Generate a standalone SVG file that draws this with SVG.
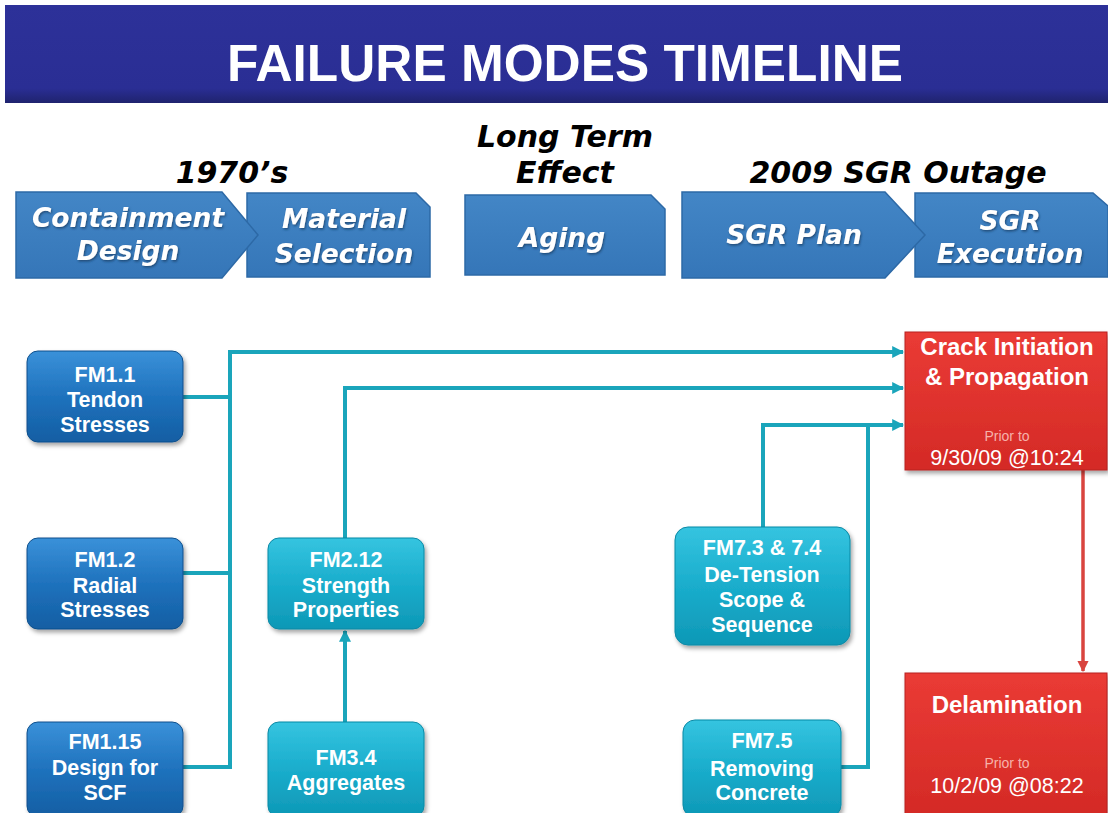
<svg xmlns="http://www.w3.org/2000/svg" width="1108" height="813" viewBox="0 0 1108 813">
<defs>
<linearGradient id="gTitle" x1="0" y1="0" x2="0" y2="1"><stop offset="0" stop-color="#2d3199"/><stop offset="0.85" stop-color="#2a2e94"/><stop offset="1" stop-color="#1f236e"/></linearGradient>
<linearGradient id="gTl" x1="0" y1="0" x2="0" y2="1"><stop offset="0" stop-color="#4386c6"/><stop offset="1" stop-color="#3576b8"/></linearGradient>
<linearGradient id="gBlue" x1="0" y1="0" x2="0" y2="1"><stop offset="0" stop-color="#3a91d9"/><stop offset="0.5" stop-color="#1f72bd"/><stop offset="1" stop-color="#135ea3"/></linearGradient>
<linearGradient id="gTeal" x1="0" y1="0" x2="0" y2="1"><stop offset="0" stop-color="#35c4e0"/><stop offset="0.5" stop-color="#1aadcc"/><stop offset="1" stop-color="#0e98b6"/></linearGradient>
<linearGradient id="gRed" x1="0" y1="0" x2="0" y2="1"><stop offset="0" stop-color="#ea3b35"/><stop offset="1" stop-color="#d42a26"/></linearGradient>
<filter id="sh" x="-10%" y="-10%" width="125%" height="130%"><feDropShadow dx="2" dy="3" stdDeviation="2" flood-color="#000" flood-opacity="0.35"/></filter>
<filter id="tsh" x="-5%" y="-20%" width="110%" height="150%"><feDropShadow dx="1" dy="1.5" stdDeviation="0.8" flood-color="#1a3f66" flood-opacity="0.8"/></filter>
<marker id="aT" viewBox="0 0 10 10" refX="9" refY="5" markerWidth="3" markerHeight="3" orient="auto" markerUnits="strokeWidth"><path d="M0,0 L10,5 L0,10 z" fill="#1aa5bb"/></marker>
<marker id="aR" viewBox="0 0 10 10" refX="9" refY="5" markerWidth="3.2" markerHeight="3.2" orient="auto" markerUnits="strokeWidth"><path d="M0,0 L10,5 L0,10 z" fill="#d9443f"/></marker>
</defs>
<style>
.hdr{font-family:"DejaVu Sans",Verdana,sans-serif;font-weight:bold;font-style:italic;font-size:30px;fill:#000;text-anchor:middle}
.tl{fill:url(#gTl);stroke:#2d69a6;stroke-width:1.5}
.tlt{font-family:"DejaVu Sans",Verdana,sans-serif;font-weight:bold;font-style:italic;font-size:26.5px;fill:#fff;text-anchor:middle}
.nb{fill:url(#gBlue);stroke:#0f4f8c;stroke-width:1}
.nt{fill:url(#gTeal);stroke:#0b89a5;stroke-width:1}
.nr{fill:url(#gRed);stroke:#b82320;stroke-width:1}
.lbl{font-family:"Liberation Sans",Arial,sans-serif;font-weight:bold;font-size:21.5px;fill:#fff;text-anchor:middle}
.rl{font-family:"Liberation Sans",Arial,sans-serif;font-weight:bold;font-size:24px;fill:#fff;text-anchor:middle}
.pr{font-family:"Liberation Sans",Arial,sans-serif;font-size:14px;fill:#f6b2aa;text-anchor:middle}
.dt{font-family:"Liberation Sans",Arial,sans-serif;font-size:21.5px;fill:#fff;text-anchor:middle}
.c{fill:none;stroke:#1aa5bb;stroke-width:4}
.cr{fill:none;stroke:#d9443f;stroke-width:3.5}
</style>
<rect width="1108" height="813" fill="#fff"/>
<g id="title">
<rect x="5" y="5" width="1103" height="98" fill="url(#gTitle)"/>
<text x="565" y="81" font-family="Liberation Sans, Arial, sans-serif" font-weight="bold" font-size="52" fill="#fff" text-anchor="middle" textLength="676" lengthAdjust="spacingAndGlyphs">FAILURE MODES TIMELINE</text>
</g>
<g id="headers">
<text class="hdr" x="232" y="183">1970’s</text>
<text class="hdr" x="565" y="147">Long Term</text>
<text class="hdr" x="565" y="183">Effect</text>
<text class="hdr" x="898" y="183">2009 SGR Outage</text>
</g>
<g id="tl-material">
<polygon class="tl" points="247,193 416,193 430,207 430,277 247,277"/>
<text class="tlt" x="344" y="228" filter="url(#tsh)">Material</text>
<text class="tlt" x="344" y="263" filter="url(#tsh)">Selection</text>
</g>
<g id="tl-containment">
<polygon class="tl" points="16,192 222,192 258,235 222,278 16,278"/>
<text class="tlt" x="128" y="227" filter="url(#tsh)">Containment</text>
<text class="tlt" x="128" y="260" filter="url(#tsh)">Design</text>
</g>
<g id="tl-aging">
<polygon class="tl" points="465,195 651,195 665,209 665,275 465,275"/>
<text class="tlt" x="562" y="247" filter="url(#tsh)">Aging</text>
</g>
<g id="tl-exec">
<polygon class="tl" points="915,193 1093,193 1108,206 1108,277 915,277"/>
<text class="tlt" x="1010" y="230" filter="url(#tsh)">SGR</text>
<text class="tlt" x="1010" y="263" filter="url(#tsh)">Execution</text>
</g>
<g id="tl-plan">
<polygon class="tl" points="682,192 885,192 925,235 885,278 682,278"/>
<text class="tlt" x="794" y="244" filter="url(#tsh)">SGR Plan</text>
</g>
<g id="connectors">
<polyline class="c" points="183,397 230,397"/>
<polyline class="c" points="183,573 230,573"/>
<polyline class="c" points="183,767 230,767 230,352 903,352" marker-end="url(#aT)"/>
<polyline class="c" points="345,538 345,388 903,388" marker-end="url(#aT)"/>
<polyline class="c" points="345,722 345,631" marker-end="url(#aT)"/>
<polyline class="c" points="763,527 763,425 903,425" marker-end="url(#aT)"/>
<polyline class="c" points="841,767 868,767 868,425"/>
<polyline class="cr" points="1083,470 1083,671" marker-end="url(#aR)"/>
</g>
<g id="fm1-1">
<rect class="nb" x="27" y="351" width="156" height="91" rx="11" filter="url(#sh)"/>
<text class="lbl" x="105" y="382">FM1.1</text>
<text class="lbl" x="105" y="407">Tendon</text>
<text class="lbl" x="105" y="432">Stresses</text>
</g>
<g id="fm1-2">
<rect class="nb" x="27" y="538" width="156" height="91" rx="11" filter="url(#sh)"/>
<text class="lbl" x="105" y="567">FM1.2</text>
<text class="lbl" x="105" y="593">Radial</text>
<text class="lbl" x="105" y="617">Stresses</text>
</g>
<g id="fm1-15">
<rect class="nb" x="27" y="722" width="156" height="95" rx="11" filter="url(#sh)"/>
<text class="lbl" x="105" y="749">FM1.15</text>
<text class="lbl" x="105" y="775">Design for</text>
<text class="lbl" x="105" y="800">SCF</text>
</g>
<g id="fm2-12">
<rect class="nt" x="268" y="538" width="156" height="91" rx="11" filter="url(#sh)"/>
<text class="lbl" x="346" y="567">FM2.12</text>
<text class="lbl" x="346" y="593">Strength</text>
<text class="lbl" x="346" y="617">Properties</text>
</g>
<g id="fm3-4">
<rect class="nt" x="268" y="722" width="156" height="95" rx="11" filter="url(#sh)"/>
<text class="lbl" x="346" y="765">FM3.4</text>
<text class="lbl" x="346" y="790">Aggregates</text>
</g>
<g id="fm7-3">
<rect class="nt" x="675" y="527" width="175" height="118" rx="13" filter="url(#sh)"/>
<text class="lbl" x="762" y="555">FM7.3 &amp; 7.4</text>
<text class="lbl" x="762" y="582">De-Tension</text>
<text class="lbl" x="762" y="607">Scope &amp;</text>
<text class="lbl" x="762" y="632">Sequence</text>
</g>
<g id="fm7-5">
<rect class="nt" x="683" y="720" width="158" height="97" rx="12" filter="url(#sh)"/>
<text class="lbl" x="762" y="748">FM7.5</text>
<text class="lbl" x="762" y="776">Removing</text>
<text class="lbl" x="762" y="800">Concrete</text>
</g>
<g id="crack">
<rect class="nr" x="905" y="332" width="202" height="138" filter="url(#sh)"/>
<text class="rl" x="1007" y="355">Crack Initiation</text>
<text class="rl" x="1007" y="385">&amp; Propagation</text>
<text class="pr" x="1007" y="441">Prior to</text>
<text class="dt" x="1007" y="465">9/30/09 @10:24</text>
</g>
<g id="delamination">
<rect class="nr" x="905" y="673" width="202" height="142" filter="url(#sh)"/>
<text class="rl" x="1007" y="713">Delamination</text>
<text class="pr" x="1007" y="768">Prior to</text>
<text class="dt" x="1007" y="793">10/2/09 @08:22</text>
</g>
</svg>
